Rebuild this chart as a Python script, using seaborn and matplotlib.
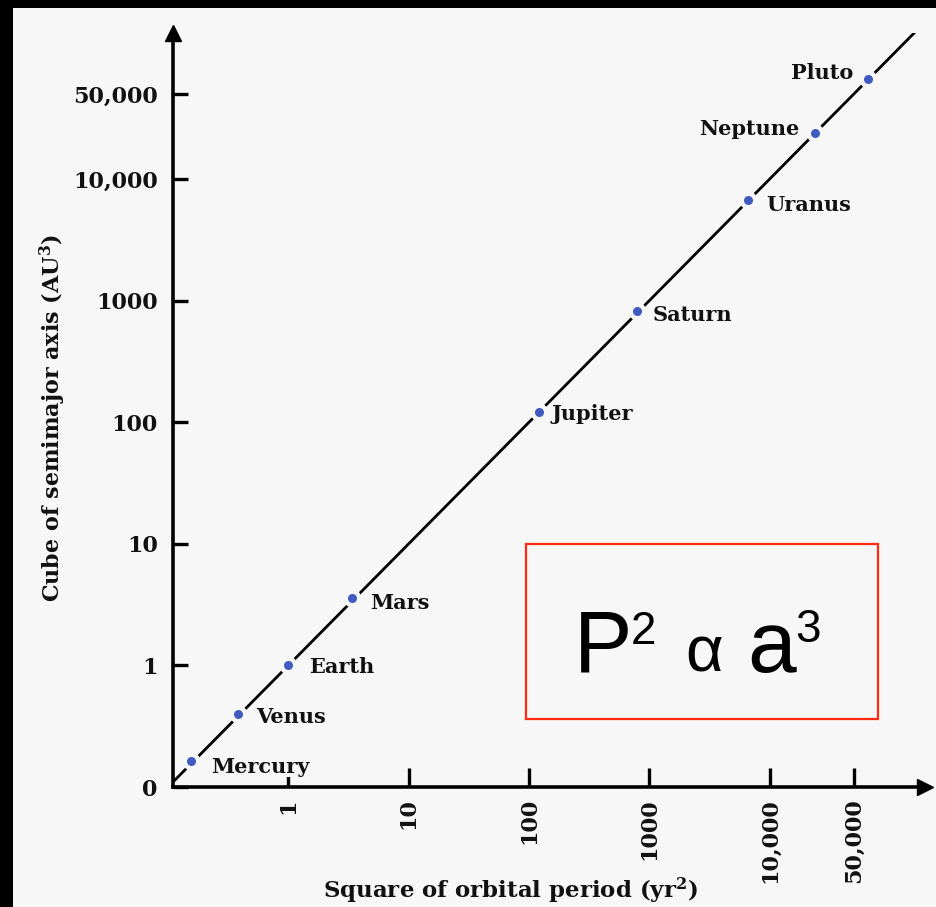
import matplotlib
matplotlib.use("Agg")
import matplotlib.pyplot as plt
from matplotlib.patches import Rectangle
import seaborn as sns
import pandas as pd

# Planets: square of orbital period (yr^2) vs cube of semimajor axis (AU^3)
planets = ["Mercury", "Venus", "Earth", "Mars", "Jupiter",
           "Saturn", "Uranus", "Neptune", "Pluto"]
period_sq = [0.154, 0.385, 1.0, 3.4, 121, 787, 6570, 23600, 65000]
axis_cube = [0.163, 0.396, 1.0, 3.55, 122, 824, 6720, 23900, 66300]

# Reference line P^2 = a^3
fit_x = [0.1, 1.6e5]
fit_y = [0.1, 1.6e5]

x_ticks = [1, 10, 100, 1000, 10000, 50000]
x_tick_labels = ["1", "10", "100", "1000", "10,000", "50,000"]
y_ticks = [0.1, 1, 10, 100, 1000, 10000, 50000]
y_tick_labels = ["0", "1", "10", "100", "1000", "10,000", "50,000"]

BG = "#f7f7f7"
DOT = "#3f5bbf"
INK = "#111111"

sns.set_theme(style="white")
plt.rcParams["font.family"] = ["DejaVu Serif"]
plt.rcParams["font.weight"] = "bold"
plt.rcParams["mathtext.fontset"] = "dejavuserif"

W, H = 936, 907
fig = plt.figure(figsize=(W / 100, H / 100), dpi=100, facecolor=BG)

def fx(px):
    return px / W

def fy(py):
    return 1 - py / H

ax = fig.add_axes([fx(173), fy(787), fx(925) - fx(173), fy(33) - fy(787)])
ax.set_facecolor(BG)

df = pd.DataFrame({"planet": planets, "p2": period_sq, "a3": axis_cube})
line_df = pd.DataFrame({"x": fit_x, "y": fit_y})

sns.lineplot(data=line_df, x="x", y="y", color="black", lw=2.0, ax=ax, zorder=2)
sns.scatterplot(data=df, x="p2", y="a3", color=DOT, s=95, edgecolor=BG,
                linewidth=3.2, ax=ax, zorder=3)

ax.set_xscale("log")
ax.set_yscale("log")
ax.set_xlim(0.11, 10 ** 5.29)
ax.set_ylim(0.1, 10 ** 5.2)
ax.minorticks_off()

ax.set_xticks(x_ticks)
ax.set_xticklabels(x_tick_labels, rotation=90, fontsize=16, fontweight="bold",
                   va="top", ha="center", color=INK)
ax.set_yticks(y_ticks)
ax.set_yticklabels(y_tick_labels, fontsize=16, fontweight="bold", color=INK)
ax.tick_params(axis="x", which="major", bottom=True, direction="in",
               length=14, width=2.4, pad=8, color="black")
ax.tick_params(axis="y", which="major", left=True, direction="in",
               length=11, width=2.4, pad=11, color="black")

for side in ["top", "right"]:
    ax.spines[side].set_visible(False)
for side in ["left", "bottom"]:
    ax.spines[side].set_linewidth(2.6)
    ax.spines[side].set_color("black")

# Arrow heads at the axis ends
ax.plot([0], [1], marker="^", ms=11, color="black", transform=ax.transAxes,
        clip_on=False, zorder=5)
ax.plot([1], [0], marker=">", ms=11, color="black", transform=ax.transAxes,
        clip_on=False, zorder=5)

ax.set_xlabel(r"Square of orbital period (yr$^{\mathbf{2}}$)", fontsize=16.5,
              fontweight="bold", color=INK)
ax.set_ylabel(r"Cube of semimajor axis (AU$^{\mathbf{3}}$)", fontsize=16,
              fontweight="bold", color=INK)
ax.xaxis.set_label_coords((510 - 173) / 752, -0.118)
ax.yaxis.set_label_coords((68 - 173) / 752, 0.49)

# Planet names next to their points (offsets in points)
offsets = {
    "Mercury": (15, -4, "left"),
    "Venus": (13, -2, "left"),
    "Earth": (15, -1, "left"),
    "Mars": (13, -3, "left"),
    "Jupiter": (9, -2, "left"),
    "Saturn": (11, -3, "left"),
    "Uranus": (13, -4, "left"),
    "Neptune": (-11, 3, "right"),
    "Pluto": (-10, 4, "right"),
}
for name, xv, yv in zip(planets, period_sq, axis_cube):
    dx, dy, ha = offsets[name]
    ax.annotate(name, (xv, yv), xytext=(dx, dy), textcoords="offset points",
                ha=ha, va="center", fontsize=15, fontweight="bold",
                color=INK, zorder=6,
                bbox=dict(facecolor=BG, edgecolor="none", pad=0.5))

# Proportionality box
fig.patches.append(Rectangle((fx(526), fy(719)), fx(878) - fx(526),
                             fy(544) - fy(719), transform=fig.transFigure,
                             fill=False, edgecolor="#ff2a10", lw=1.6))
sans = "Liberation Sans"
fig.text(fx(574), fy(672), "P", fontsize=63, family=sans, fontweight="normal",
         ha="left", va="baseline", color="black")
fig.text(fx(631), fy(644), "2", fontsize=33, family=sans, fontweight="normal",
         ha="left", va="baseline", color="black")
fig.text(fx(685), fy(672), "α", fontsize=47, family=sans, fontweight="normal",
         ha="left", va="baseline", color="black")
fig.text(fx(747), fy(672), "a", fontsize=63, family=sans, fontweight="normal",
         ha="left", va="baseline", color="black")
fig.text(fx(795), fy(642), "3", fontsize=33, family=sans, fontweight="normal",
         ha="left", va="baseline", color="black")

# Dark frame along the top and left edges
fig.patches.append(Rectangle((0, fy(8)), 1, 1 - fy(8), transform=fig.transFigure,
                             facecolor="black", edgecolor="none"))
fig.patches.append(Rectangle((0, 0), fx(13), 1, transform=fig.transFigure,
                             facecolor="black", edgecolor="none"))

fig.savefig("out.png", dpi=100, facecolor=BG)
